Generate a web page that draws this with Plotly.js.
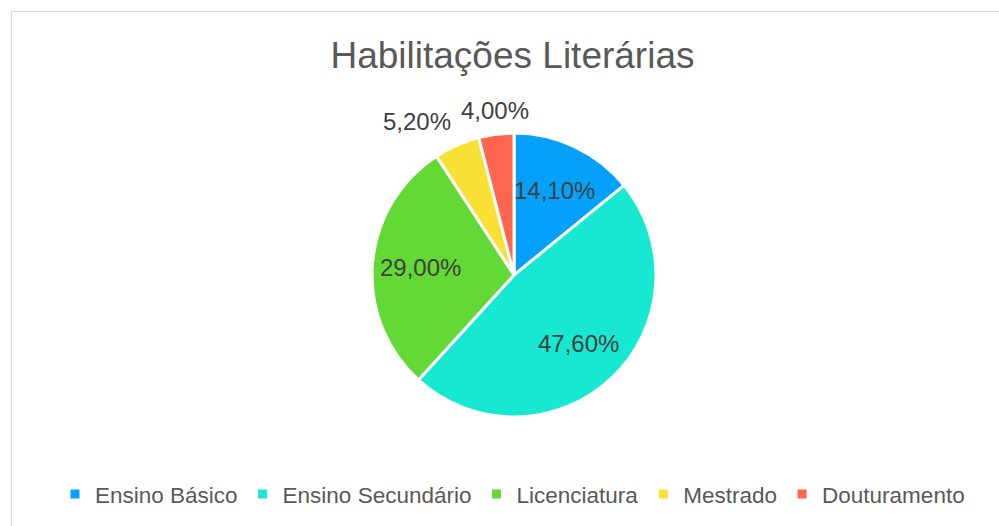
<!DOCTYPE html>
<html>
<head>
<meta charset="utf-8">
<script src="https://cdn.plot.ly/plotly-3.0.1.min.js"></script>
<style>
html,body{margin:0;padding:0;background:#fff;}
#wrap{position:relative;width:999px;height:526px;overflow:hidden;}
#plot{position:absolute;left:0;top:0;width:999px;height:526px;}
#frame{position:absolute;left:11px;top:11px;width:1000px;height:600px;border-left:1px solid #d9d9d9;border-top:1px solid #d9d9d9;pointer-events:none;}
</style>
</head>
<body>
<div id="wrap"><div id="plot"></div><div id="frame"></div></div>
<script>
const categories = ["Ensino Básico", "Ensino Secundário", "Licenciatura", "Mestrado", "Douturamento"];
const values = [14.1, 47.6, 29.0, 5.2, 4.0];
const labelText = ["14,10%", "47,60%", "29,00%", "5,20%", "4,00%"];
const colors = ["#03a1fb", "#17e8d2", "#63d936", "#f9e035", "#ff6650"];
const labelInside = [true, true, true, false, false];

const W = 999, H = 526;
const domX = [0.3724, 0.6567], domY = [0.2072, 0.747];
const FONT = "Liberation Sans, Arial, sans-serif";

const trace = {
  type: "pie",
  labels: categories,
  values: values,
  textinfo: "none",
  sort: false,
  direction: "clockwise",
  rotation: 0,
  marker: {colors: colors, line: {color: "#ffffff", width: 3}},
  domain: {x: domX, y: domY},
  hoverinfo: "none"
};

// data labels placed at each slice's mid-angle, derived from the values
const cxPx = (domX[0] + domX[1]) / 2 * W;
const cyPx = H - (domY[0] + domY[1]) / 2 * H;
const Rpx = Math.min((domX[1] - domX[0]) * W, (domY[1] - domY[0]) * H) / 2;
const total = values.reduce((a, b) => a + b, 0);
let cum = 0;
const annotations = values.map((v, i) => {
  const mid = (cum + v / 2) / total * 2 * Math.PI;
  cum += v;
  const s = Math.sin(mid), c = Math.cos(mid);
  const r = labelInside[i] ? 0.66 * Rpx : 1.06 * Rpx;
  const px = cxPx + r * s, py = cyPx - r * c;
  let xa = "center", ya = "middle";
  if (!labelInside[i]) {
    xa = s < -0.3 ? "right" : (s > 0.3 ? "left" : "center");
    ya = c > 0.3 ? "bottom" : (c < -0.3 ? "top" : "middle");
  }
  return {
    xref: "paper", yref: "paper",
    x: px / W, y: (H - py) / H,
    xanchor: xa, yanchor: ya,
    text: labelText[i], showarrow: false,
    font: {family: FONT, size: 24, color: "#404040"}
  };
});

const layout = {
  width: W,
  height: H,
  margin: {l: 0, r: 0, t: 0, b: 0},
  paper_bgcolor: "#ffffff",
  title: {
    text: "Habilitações Literárias",
    font: {family: FONT, size: 37, color: "#595959"},
    x: 0.513, xanchor: "center",
    y: 0.895, yanchor: "middle"
  },
  showlegend: true,
  legend: {
    orientation: "h",
    x: 0.513, xanchor: "center",
    y: 0.06, yanchor: "middle",
    font: {family: FONT, size: 22.5, color: "#595959"},
    itemwidth: 30,
    traceorder: "normal"
  },
  annotations: annotations
};

Plotly.newPlot("plot", [trace], layout, {staticPlot: true});
</script>
</body>
</html>
